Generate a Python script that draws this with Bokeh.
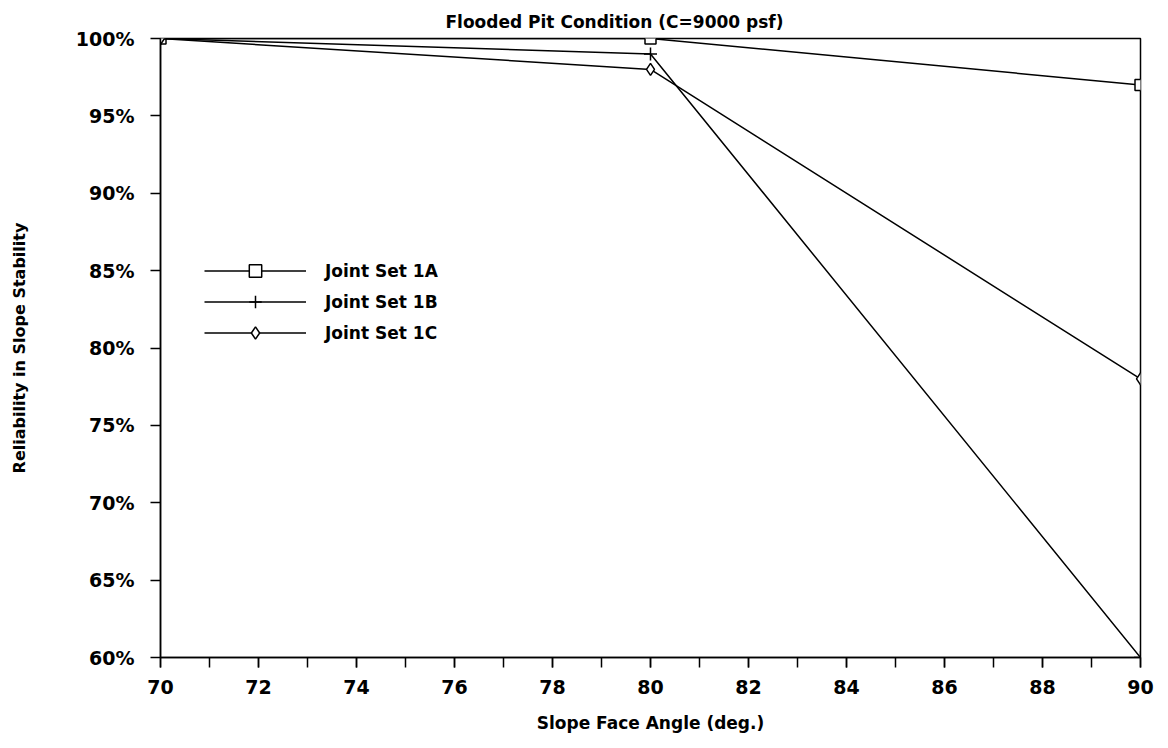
from bokeh.plotting import figure
from bokeh.models import Legend, LegendItem, NumeralTickFormatter, SingleIntervalTicker, FixedTicker, Range1d
from bokeh.embed import file_html
from bokeh.resources import INLINE

angles = [70, 80, 90]
set_1a = [1.00, 1.00, 0.97]
set_1b = [1.00, 0.99, 0.60]
set_1c = [1.00, 0.98, 0.78]
y_ticks = [0.60, 0.65, 0.70, 0.75, 0.80, 0.85, 0.90, 0.95, 1.00]

FONT = "DejaVu Sans"

p = figure(width=1160, height=740, output_backend="svg", toolbar_location=None,
           x_range=Range1d(70, 90), y_range=Range1d(0.60, 1.00),
           min_border_left=160, min_border_right=20, min_border_top=38, min_border_bottom=83,
           title="Flooded Pit Condition (C=9000 psf)")
p.title.align = "left"
p.title.text_font = FONT
p.title.text_font_style = "bold"
p.title.text_font_size = "17px"
p.title.text_color = "black"
p.title.offset = 285
p.title.standoff = 14

p.grid.visible = False
p.outline_line_color = "black"
p.outline_line_width = 1.5
p.background_fill_color = "white"
p.border_fill_color = "white"

p.xaxis.ticker = SingleIntervalTicker(interval=2, num_minor_ticks=2)
p.yaxis.ticker = FixedTicker(ticks=y_ticks)
p.yaxis.formatter = NumeralTickFormatter(format="0%")
for ax in (p.xaxis, p.yaxis):
    ax.axis_line_color = "black"
    ax.axis_line_width = 1.5
    ax.major_tick_line_color = "black"
    ax.major_tick_line_width = 1.5
    ax.major_tick_in = 0
    ax.major_tick_out = 10
    ax.major_label_text_font = FONT
    ax.major_label_text_font_style = "bold"
    ax.major_label_text_font_size = "19px"
    ax.major_label_text_color = "black"
    ax.axis_label_text_font = FONT
    ax.axis_label_text_font_style = "bold"
    ax.axis_label_text_color = "black"
p.xaxis.axis_label_text_font_size = "17px"
p.yaxis.axis_label_text_font_size = "16px"
p.xaxis.minor_tick_line_color = "black"
p.xaxis.minor_tick_line_width = 1.5
p.xaxis.minor_tick_in = 0
p.xaxis.minor_tick_out = 10
p.yaxis.minor_tick_line_color = None
p.xaxis.major_label_standoff = 12
p.yaxis.major_label_standoff = 16
p.xaxis.axis_label = "Slope Face Angle (deg.)"
p.yaxis.axis_label = "Reliability in Slope Stability"
p.xaxis.axis_label_standoff = 16
p.yaxis.axis_label_standoff = 44

la = p.line(angles, set_1a, line_color="black", line_width=1.5)
ma = p.scatter(angles, set_1a, marker="square", size=11, fill_color="white", line_color="black", line_width=1.5)
lb = p.line(angles, set_1b, line_color="black", line_width=1.5)
mb = p.scatter(angles, set_1b, marker="cross", size=13, line_color="black", line_width=1.5)
lc = p.line(angles, set_1c, line_color="black", line_width=1.5)
mc = p.scatter(angles, set_1c, marker="diamond", size=12, fill_color="white", line_color="black", line_width=1.5)

legend = Legend(items=[
    LegendItem(label="Joint Set 1A", renderers=[la, ma]),
    LegendItem(label="Joint Set 1B", renderers=[lb, mb]),
    LegendItem(label="Joint Set 1C", renderers=[lc, mc]),
], location=(44, 309))
legend.glyph_width = 102
legend.glyph_height = 31
legend.spacing = 0
legend.label_text_font = FONT
legend.label_text_font_style = "bold"
legend.label_text_font_size = "17px"
legend.label_text_color = "black"
legend.label_height = 31
legend.border_line_color = None
legend.background_fill_alpha = 0
legend.padding = 4
legend.label_standoff = 19
p.add_layout(legend, "center")

open("out.html", "w").write(file_html(p, INLINE))
